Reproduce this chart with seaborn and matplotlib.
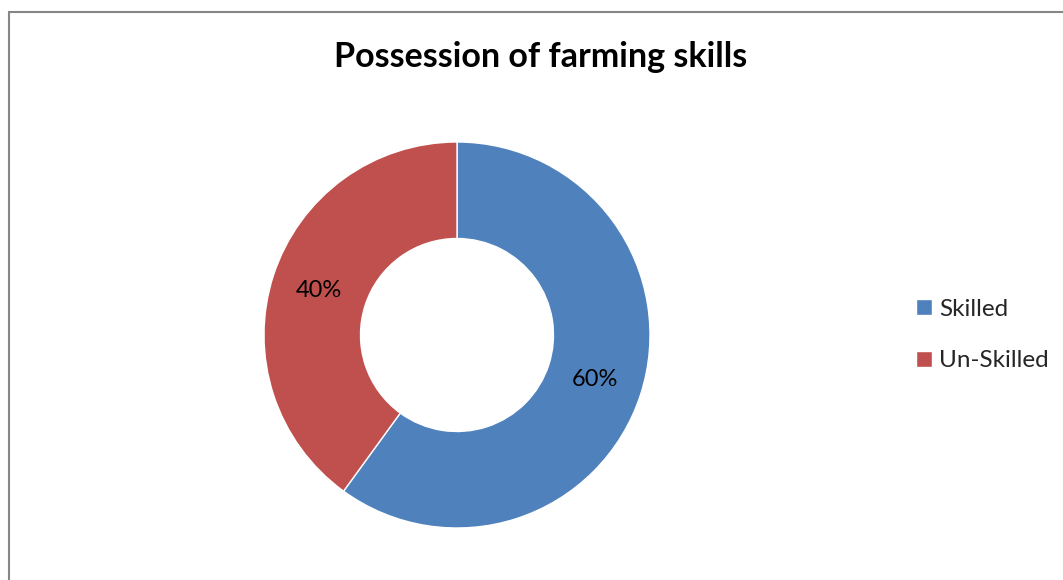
import matplotlib
matplotlib.use("Agg")
import matplotlib.pyplot as plt
from matplotlib.patches import Rectangle
import numpy as np
import seaborn as sns

categories = ["Skilled", "Un-Skilled"]
shares = [60, 40]
colors = ["#4F81BD", "#C0504D"]

sns.set_theme(style="white")
plt.rcParams["font.family"] = ["Lato", "DejaVu Sans"]

W, H = 1063, 580
fig = plt.figure(figsize=(W / 100, H / 100), dpi=100)
fig.patch.set_facecolor("white")

# outer frame (left and top edges visible)
fig.patches.append(Rectangle((8.5 / W, -0.1), 1.2, (H - 12) / H + 0.1,
                             transform=fig.transFigure, fill=False,
                             edgecolor="#868686", linewidth=1.5))

cx, cy, r = 457, H - 335, 193
ax = fig.add_axes([(cx - r) / W, (cy - r) / H, 2 * r / W, 2 * r / H])
wedges, _ = ax.pie(shares, colors=colors, startangle=90, counterclock=False,
                   radius=1, wedgeprops=dict(width=0.5, edgecolor="white", linewidth=1))
ax.set_xlim(-1, 1)
ax.set_ylim(-1, 1)
ax.set_aspect("equal")
ax.axis("off")

for w, s in zip(wedges, shares):
    mid = np.deg2rad((w.theta1 + w.theta2) / 2)
    ax.text(0.75 * np.cos(mid), 0.75 * np.sin(mid), f"{s}%", ha="center", va="center",
            fontsize=17, color="black")

fig.text(541 / W, 1 - 57 / H, "Possession of farming skills", ha="center", va="center",
         fontsize=24.5, fontweight="bold", color="black")

handles = [Rectangle((0, 0), 1, 1, facecolor=c) for c in colors]
fig.legend(handles, categories, loc="center left", bbox_to_anchor=(916 / W, 1 - 335 / H),
           frameon=False, fontsize=17.5, handlelength=0.65, handleheight=0.65,
           handletextpad=0.3, labelspacing=1.25, borderaxespad=0, borderpad=0)

fig.savefig("out.png", dpi=100)
